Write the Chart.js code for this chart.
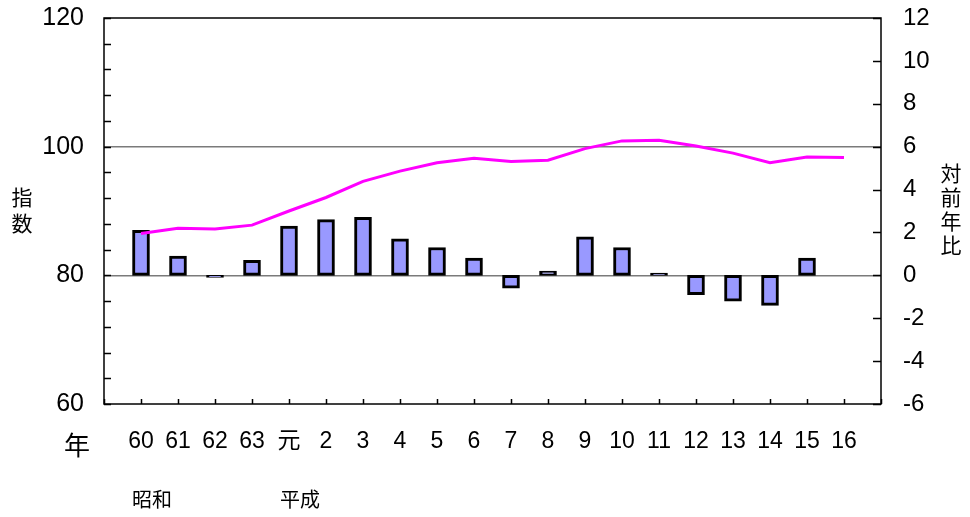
<!DOCTYPE html>
<html>
<head>
<meta charset="utf-8">
<script src="https://cdn.jsdelivr.net/npm/chart.js@4"></script>
<style>
  body { margin: 0; background: #fff; }
</style>
</head>
<body>
<canvas id="indexChart" width="970" height="517"></canvas>
<script>
const years = ['60', '61', '62', '63', '元', '2', '3', '4', '5', '6',
    '7', '8', '9', '10', '11', '12', '13', '14', '15', '16'];

// 指数 (left axis)
const indexValues = [86.5, 87.3, 87.2, 87.8, 90.0, 92.1, 94.6, 96.2, 97.5, 98.2,
    97.7, 97.9, 99.7, 100.9, 101.0, 100.1, 99.0, 97.5, 98.4, 98.3];

// 対前年比 (right axis)
const changeValues = [2.1, 0.9, -0.1, 0.7, 2.3, 2.6, 2.7, 1.7, 1.3, 0.8,
    -0.6, 0.2, 1.8, 1.3, 0.1, -0.9, -1.2, -1.4, 0.8, null];

const leftTicks = [60, 80, 100, 120];
const rightTicks = [-6, -4, -2, 0, 2, 4, 6, 8, 10, 12];

// one empty slot on each end so the years sit one step in from the frame
const labels = [''].concat(years, ['']);

const numFont = '"Liberation Sans", Arial, "Noto Sans CJK JP", sans-serif';
const cjkFont = '"Noto Sans CJK JP", sans-serif';

const extras = {
    id: 'extras',
    afterDraw(chart) {
        const ctx = chart.ctx;
        const a = chart.chartArea;
        const s = chart.scales;
        ctx.save();
        ctx.strokeStyle = '#000';
        ctx.lineWidth = 1.5;
        ctx.beginPath();
        s.y.ticks.forEach(t => {
            const y = Math.round(s.y.getPixelForValue(t.value)) + 0.5;
            ctx.moveTo(a.left, y);
            ctx.lineTo(a.left + 7, y);
        });
        s.y1.ticks.forEach(t => {
            const y = Math.round(s.y1.getPixelForValue(t.value)) + 0.5;
            ctx.moveTo(a.right - 8, y);
            ctx.lineTo(a.right, y);
        });
        labels.forEach((l, i) => {
            const x = Math.round(s.x.getPixelForValue(i)) + 0.5;
            ctx.moveTo(x, a.bottom);
            ctx.lineTo(x, a.bottom - 5);
        });
        ctx.stroke();
        ctx.strokeRect(a.left, a.top, a.right - a.left, a.bottom - a.top);

        ctx.fillStyle = '#000';
        ctx.textAlign = 'center';
        ctx.textBaseline = 'middle';
        ctx.font = '26px ' + cjkFont;
        ctx.fillText('年', 77, 445);
        ctx.font = '20px ' + cjkFont;
        ctx.fillText('昭和', 152, 499);
        ctx.fillText('平成', 300, 499);
        ctx.font = '21px ' + cjkFont;
        ctx.fillText('指', 22, 197);
        ctx.fillText('数', 22, 223);
        ['対', '前', '年', '比'].forEach((c, i) => {
            ctx.fillText(c, 951, 173 + i * 24);
        });
        ctx.restore();
    }
};

const data = {
    labels: labels,
    datasets: [{
        type: 'line',
        label: '指数',
        data: [null].concat(indexValues, [null]),
        yAxisID: 'y',
        borderColor: '#ff00ff',
        borderWidth: 3,
        pointRadius: 0,
        tension: 0,
        order: 0,
    }, {
        type: 'bar',
        label: '対前年比',
        data: [null].concat(changeValues, [null]),
        yAxisID: 'y1',
        backgroundColor: '#9999ff',
        borderColor: '#000',
        borderWidth: 3,
        borderSkipped: false,
        barThickness: 17,
        order: 1,
    }]
};

const noPad = scale => {
    scale.paddingTop = 0;
    scale.paddingBottom = 0;
};

const config = {
    type: 'bar',
    data: data,
    plugins: [extras],
    options: {
        responsive: false,
        animation: false,
        layout: { padding: { top: 18, left: 0, right: 0, bottom: 0 } },
        plugins: {
            legend: { display: false },
            tooltip: { enabled: false },
        },
        scales: {
            x: {
                offset: false,
                grid: { display: false },
                border: { display: false },
                ticks: {
                    autoSkip: false,
                    maxRotation: 0,
                    padding: 16,
                    color: '#000',
                    font: { family: numFont, size: 23 },
                },
                afterFit: scale => { scale.height = 113; },
            },
            y: {
                position: 'left',
                min: 60,
                max: 120,
                border: { display: false },
                grid: {
                    drawTicks: false,
                    lineWidth: 1.5,
                    color: ctx => (ctx.tick && (ctx.tick.value === 80 || ctx.tick.value === 100)) ? '#7a7a7a' : 'transparent',
                },
                ticks: {
                    stepSize: 4,
                    autoSkip: false,
                    padding: 20,
                    color: '#000',
                    font: { family: numFont, size: 25 },
                    callback: v => leftTicks.includes(v) ? String(v) : '',
                },
                afterFit: scale => { scale.width = 104; noPad(scale); },
            },
            y1: {
                position: 'right',
                min: -6,
                max: 12,
                border: { display: false },
                grid: { display: false, drawTicks: false },
                ticks: {
                    stepSize: 2,
                    autoSkip: false,
                    padding: 22,
                    color: '#000',
                    font: { family: numFont, size: 24 },
                    callback: v => rightTicks.includes(v) ? String(v) : '',
                },
                afterFit: scale => { scale.width = 89; noPad(scale); },
            },
        },
    }
};

const indexChart = new Chart(
    document.getElementById('indexChart'),
    config
);
</script>
</body>
</html>
